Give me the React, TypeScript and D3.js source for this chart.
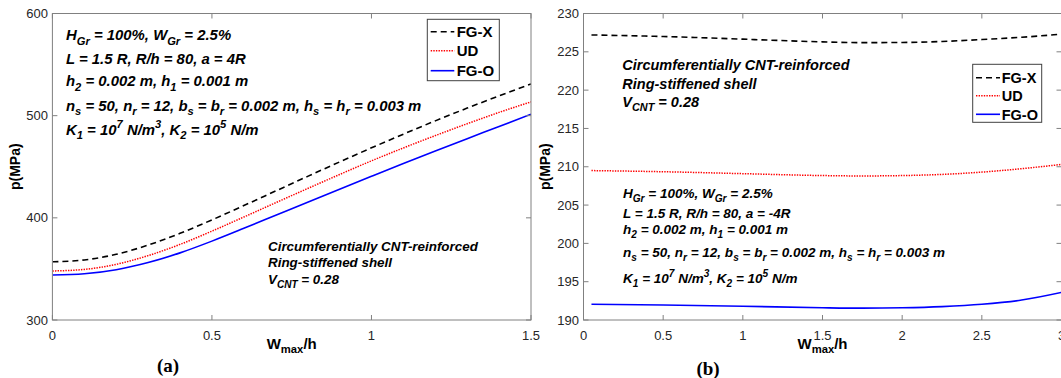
import React, { useEffect, useRef } from "react";
import * as d3 from "d3";

// panel (a): W/h from 0 to 1.5
const wA = [0, 0.1, 0.2, 0.3, 0.4, 0.5, 0.6, 0.7, 0.8, 0.9, 1.0, 1.1, 1.2, 1.3, 1.4, 1.5];
const fgxA = [357, 358.8, 364.3, 373.3, 384.8, 398, 412, 426.3, 440.6, 454.7, 468.5, 481.9, 494.9, 507.4, 519.4, 531];
const udA = [348, 349.5, 354.5, 363, 374, 387, 400.8, 414.8, 428.7, 442.4, 455.8, 468.4, 480.5, 492.1, 503.2, 513.5];
const fgoA = [344, 345.2, 349.2, 356.2, 365.7, 377.2, 389.7, 402.5, 415.3, 428, 440.6, 453.1, 465.4, 477.5, 489.4, 501.5];

// panel (b): W/h from 0.05 to 3
const wB = [0.05, 0.5, 1.0, 1.5, 1.75, 2.0, 2.25, 2.5, 2.75, 3.0];
const fgxB = [227.2, 227.0, 226.65, 226.3, 226.2, 226.22, 226.35, 226.6, 226.9, 227.3];
const udB = [209.5, 209.35, 209.1, 208.85, 208.8, 208.85, 209.0, 209.3, 209.75, 210.3];
const fgoB = [192.05, 191.95, 191.8, 191.6, 191.55, 191.6, 191.75, 192.05, 192.6, 193.6];

const xTicksA = [0, 0.5, 1, 1.5];
const yTicksA = [300, 400, 500, 600];
const xTicksB = [0, 0.5, 1, 1.5, 2, 2.5, 3];
const yTicksB = [190, 195, 200, 205, 210, 215, 220, 225, 230];

const seriesNames = ["FG-X", "UD", "FG-O"];

const paramsA = [
  "H_{Gr} = 100%, W_{Gr} = 2.5%",
  "L = 1.5 R, R/h = 80, a = 4R",
  "h_{2} = 0.002 m, h_{1} = 0.001 m",
  "n_{s} = 50, n_{r} = 12, b_{s} = b_{r} = 0.002 m, h_{s} = h_{r} = 0.003 m",
  "K_{1} = 10^{7} N/m^{3}, K_{2} = 10^{5} N/m",
];
const paramsB = [
  "H_{Gr} = 100%, W_{Gr} = 2.5%",
  "L = 1.5 R, R/h = 80, a = -4R",
  "h_{2} = 0.002 m, h_{1} = 0.001 m",
  "n_{s} = 50, n_{r} = 12, b_{s} = b_{r} = 0.002 m, h_{s} = h_{r} = 0.003 m",
  "K_{1} = 10^{7} N/m^{3}, K_{2} = 10^{5} N/m",
];
const shellText = ["Circumferentially CNT-reinforced", "Ring-stiffened shell", "V_{CNT} = 0.28"];

const SANS = "'Liberation Sans', Arial, sans-serif";
const styles = [
  { stroke: "#000000", dash: "6,4", width: 1.6 },
  { stroke: "#ff0000", dash: "1.4,1.2", width: 1.5 },
  { stroke: "#0000ff", dash: null, width: 1.6 },
];

// tex-like text: _{..} subscript, ^{..} superscript
function richText(g: any, str: string, x: number, y: number, size: number, opts: any = {}) {
  const t = g.append("text")
    .attr("x", x)
    .attr("y", y)
    .attr("text-anchor", opts.anchor || "start")
    .style("font-family", SANS)
    .style("font-size", size + "px")
    .style("font-weight", "bold")
    .style("font-style", opts.italic === false ? "normal" : "italic")
    .attr("fill", "#000");
  const re = /([_^])\{([^}]*)\}/g;
  const segs: { s: string; m: string }[] = [];
  let last = 0;
  let m;
  while ((m = re.exec(str)) !== null) {
    if (m.index > last) segs.push({ s: str.slice(last, m.index), m: "" });
    segs.push({ s: m[2], m: m[1] });
    last = re.lastIndex;
  }
  if (last < str.length) segs.push({ s: str.slice(last), m: "" });
  let shift = 0;
  segs.forEach(seg => {
    const target = seg.m === "_" ? size * 0.32 : seg.m === "^" ? -size * 0.42 : 0;
    t.append("tspan")
      .attr("dy", target - shift)
      .style("font-size", (seg.m ? size * 0.75 : size) + "px")
      .style("white-space", "pre")
      .text(seg.s);
    shift = target;
  });
  return t;
}

function drawPanel(svg: any, cfg: any) {
  const x = d3.scaleLinear().domain(cfg.xDomain).range([cfg.left, cfg.right]);
  const y = d3.scaleLinear().domain(cfg.yDomain).range([cfg.bottom, cfg.top]);
  const g = svg.append("g");
  const tickLen = 5;
  const axisColor = "#808080";
  const labelColor = "#262626";

  const clipId = "clip-" + cfg.id;
  svg.append("clipPath").attr("id", clipId)
    .append("rect")
    .attr("x", cfg.left).attr("y", cfg.top)
    .attr("width", cfg.right - cfg.left).attr("height", cfg.bottom - cfg.top);

  // curves
  const line = d3.line<number>()
    .x((d, i) => x(cfg.xs[i]))
    .y(d => y(d))
    .curve(d3.curveMonotoneX);
  cfg.series.forEach((vals: number[], i: number) => {
    g.append("path")
      .attr("d", line(vals))
      .attr("fill", "none")
      .attr("clip-path", `url(#${clipId})`)
      .attr("stroke", styles[i].stroke)
      .attr("stroke-width", styles[i].width)
      .attr("stroke-dasharray", styles[i].dash);
  });

  // box and ticks
  g.append("rect")
    .attr("x", cfg.left).attr("y", cfg.top)
    .attr("width", cfg.right - cfg.left).attr("height", cfg.bottom - cfg.top)
    .attr("fill", "none").attr("stroke", axisColor).attr("stroke-width", 1);

  cfg.xTicks.forEach((t: number) => {
    const px = x(t);
    g.append("line").attr("x1", px).attr("x2", px).attr("y1", cfg.bottom).attr("y2", cfg.bottom - tickLen)
      .attr("stroke", axisColor);
    g.append("line").attr("x1", px).attr("x2", px).attr("y1", cfg.top).attr("y2", cfg.top + tickLen)
      .attr("stroke", axisColor);
    g.append("text").attr("x", px).attr("y", cfg.bottom + 20)
      .attr("text-anchor", "middle")
      .style("font-family", SANS).style("font-size", "13px")
      .attr("fill", labelColor)
      .text(String(t));
  });
  cfg.yTicks.forEach((t: number) => {
    const py = y(t);
    g.append("line").attr("x1", cfg.left).attr("x2", cfg.left + tickLen).attr("y1", py).attr("y2", py)
      .attr("stroke", axisColor);
    g.append("line").attr("x1", cfg.right).attr("x2", cfg.right - tickLen).attr("y1", py).attr("y2", py)
      .attr("stroke", axisColor);
    g.append("text").attr("x", cfg.left - 4.5).attr("y", py + 4.6)
      .attr("text-anchor", "end")
      .style("font-family", SANS).style("font-size", "13px")
      .attr("fill", labelColor)
      .text(String(t));
  });

  // axis labels
  richText(g, "W_{max}/h", (cfg.left + cfg.right) / 2, 348.5, 15, { anchor: "middle", italic: false });
  g.append("text")
    .attr("transform", `translate(${cfg.yLabelX},${(cfg.top + cfg.bottom) / 2}) rotate(-90)`)
    .attr("text-anchor", "middle")
    .style("font-family", SANS).style("font-size", "14px").style("font-weight", "bold")
    .attr("fill", "#000")
    .text("p(MPa)");

  // panel tag
  g.append("text")
    .attr("x", cfg.tagX).attr("y", cfg.tagY)
    .attr("text-anchor", "middle")
    .style("font-family", "'Liberation Serif', 'Times New Roman', serif")
    .style("font-size", "19px").style("font-weight", "bold")
    .text(cfg.tag);

  // legend
  const L = cfg.legend;
  g.append("rect")
    .attr("x", L.x).attr("y", L.y).attr("width", L.w).attr("height", L.h)
    .attr("fill", "#fff").attr("stroke", "#404040").attr("stroke-width", 1);
  seriesNames.forEach((name, i) => {
    const cy = L.rows[i];
    g.append("line")
      .attr("x1", L.lineX0).attr("x2", L.lineX1).attr("y1", cy).attr("y2", cy)
      .attr("stroke", styles[i].stroke)
      .attr("stroke-width", styles[i].width)
      .attr("stroke-dasharray", styles[i].dash);
    g.append("text")
      .attr("x", L.textX).attr("y", cy + L.size * 0.36)
      .style("font-family", SANS).style("font-size", L.size + "px").style("font-weight", "bold")
      .attr("fill", "#000")
      .text(name);
  });

  // annotations
  cfg.params.lines.forEach((s: string, i: number) => {
    richText(g, s, cfg.params.x, cfg.params.ys[i], cfg.params.size);
  });
  shellText.forEach((s, i) => {
    richText(g, s, cfg.shell.x, cfg.shell.ys[i], cfg.shell.size);
  });
}

const App = () => {
  const chartRef = useRef<HTMLDivElement>(null);

  useEffect(() => {
    document.body.style.margin = "0";
    document.body.style.overflow = "hidden";
    d3.select(chartRef.current).selectAll("*").remove();
    const svg = d3.select(chartRef.current)
      .append("svg")
      .attr("width", 1061)
      .attr("height", 378)
      .style("display", "block")
      .style("background", "#fff");

    drawPanel(svg, {
      id: "a",
      left: 52.4, right: 531, top: 13.5, bottom: 320,
      xDomain: [0, 1.5], yDomain: [300, 600],
      xs: wA, series: [fgxA, udA, fgoA],
      xTicks: xTicksA, yTicks: yTicksA,
      yLabelX: 19.5, tag: "(a)", tagX: 168, tagY: 372,
      legend: { x: 427.3, y: 19.3, w: 72, h: 61.4, rows: [31.7, 50.7, 70.7], lineX0: 430.7, lineX1: 454.3, textX: 456.7, size: 15 },
      params: { lines: paramsA, x: 66, ys: [40, 64, 86, 110.5, 134.5], size: 14.9 },
      shell: { x: 268, ys: [250.8, 267, 284], size: 13.4 },
    });

    drawPanel(svg, {
      id: "b",
      left: 583.5, right: 1061.5, top: 13.5, bottom: 320,
      xDomain: [0, 3], yDomain: [190, 230],
      xs: wB, series: [fgxB, udB, fgoB],
      xTicks: xTicksB, yTicks: yTicksB,
      yLabelX: 549.5, tag: "(b)", tagX: 708, tagY: 374.5,
      legend: { x: 972.7, y: 64.3, w: 69, h: 58, rows: [77.7, 95.7, 114.3], lineX0: 976, lineX1: 1000, textX: 1001.7, size: 14.5 },
      params: { lines: paramsB, x: 623, ys: [197.5, 217.8, 234, 256.5, 283], size: 13.5 },
      shell: { x: 622.3, ys: [70, 89, 106.7], size: 14.5 },
    });
  }, []);

  return <div ref={chartRef} />;
};

export default App;
